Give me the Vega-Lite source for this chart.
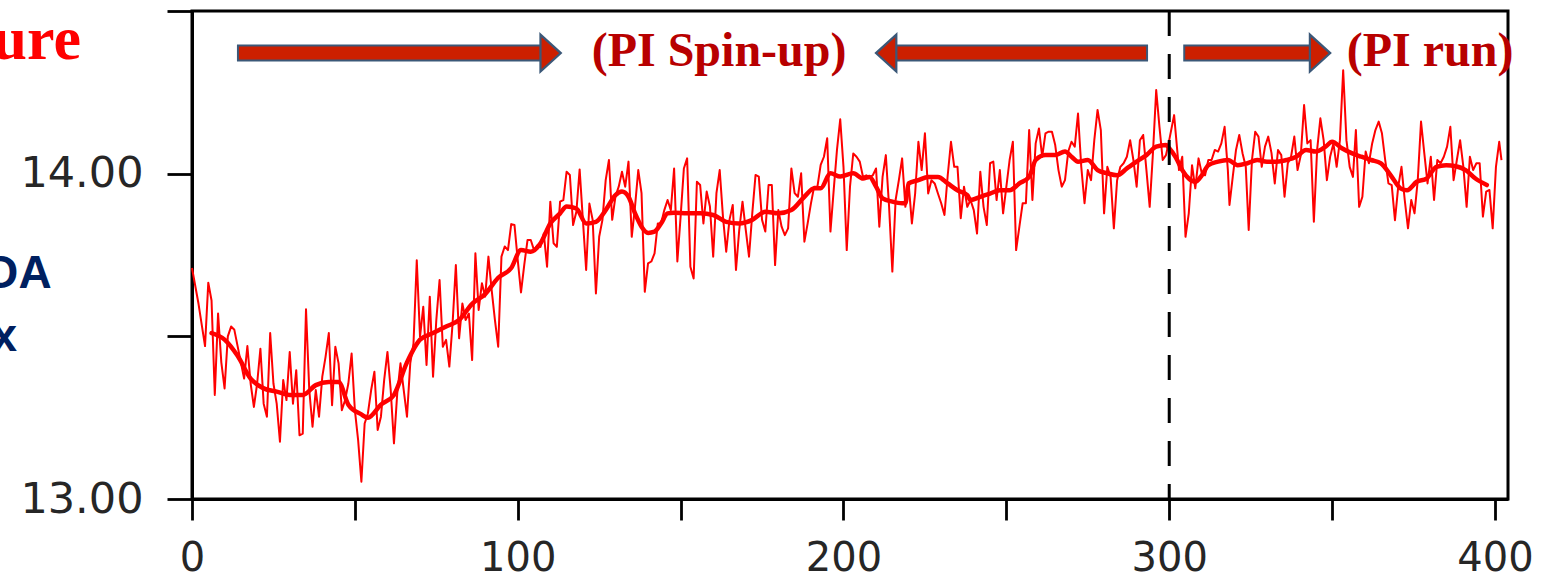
{
  "$schema": "https://vega.github.io/schema/vega-lite/v6.json",
  "width": 1316,
  "height": 488,
  "autosize": {"type": "none"},
  "padding": {"left": 192, "top": 11, "right": 49, "bottom": 81},
  "background": "white",
  "config": {
    "view": {"stroke": "black", "strokeWidth": 3},
    "axis": {
      "grid": false,
      "domainColor": "black",
      "domainWidth": 3,
      "tickColor": "black",
      "tickWidth": 2.8,
      "labelFont": "DejaVu Sans",
      "labelFontSize": 43,
      "labelColor": "#262626",
      "labelOverlap": false,
      "labelFlush": false,
      "labelBound": false,
      "title": null
    }
  },
  "datasets": {
    "annual": [
      {"yr":0,"t":13.71},{"yr":2,"t":13.60},{"yr":4,"t":13.47},{"yr":5,"t":13.665},{"yr":6,"t":13.61},{"yr":7,"t":13.32},{"yr":8,"t":13.57},{"yr":9,"t":13.42},{"yr":10,"t":13.34},
      {"yr":11,"t":13.50},{"yr":12,"t":13.53},{"yr":13,"t":13.52},{"yr":14,"t":13.47},{"yr":15,"t":13.42},{"yr":16,"t":13.37},{"yr":17,"t":13.47},{"yr":18,"t":13.355},{"yr":19,"t":13.283},{"yr":20,"t":13.355},
      {"yr":21,"t":13.462},{"yr":22,"t":13.293},{"yr":23,"t":13.253},{"yr":24,"t":13.51},{"yr":25,"t":13.355},{"yr":26,"t":13.293},{"yr":27,"t":13.176},{"yr":28,"t":13.366},{"yr":29,"t":13.304},{"yr":30,"t":13.452},
      {"yr":31,"t":13.293},{"yr":32,"t":13.396},{"yr":33,"t":13.196},{"yr":34,"t":13.201},{"yr":35,"t":13.583},{"yr":36,"t":13.335},{"yr":37,"t":13.222},{"yr":38,"t":13.335},{"yr":39,"t":13.253},{"yr":40,"t":13.376},
      {"yr":41,"t":13.437},{"yr":42,"t":13.51},{"yr":43,"t":13.288},{"yr":44,"t":13.468},{"yr":45,"t":13.417},{"yr":46,"t":13.273},{"yr":47,"t":13.304},{"yr":48,"t":13.355},{"yr":49,"t":13.447},{"yr":50,"t":13.273},
      {"yr":51,"t":13.181},{"yr":52,"t":13.053},{"yr":53,"t":13.232},{"yr":54,"t":13.263},{"yr":55,"t":13.335},{"yr":56,"t":13.391},{"yr":57,"t":13.212},{"yr":58,"t":13.253},{"yr":59,"t":13.366},{"yr":60,"t":13.452},
      {"yr":61,"t":13.335},{"yr":62,"t":13.171},{"yr":63,"t":13.324},{"yr":64,"t":13.417},{"yr":65,"t":13.335},{"yr":66,"t":13.253},{"yr":67,"t":13.417},{"yr":68,"t":13.478},{"yr":69,"t":13.734},{"yr":70,"t":13.499},
      {"yr":71,"t":13.591},{"yr":72,"t":13.412},{"yr":73,"t":13.622},{"yr":74,"t":13.376},{"yr":75,"t":13.55},{"yr":76,"t":13.673},{"yr":77,"t":13.468},{"yr":78,"t":13.489},{"yr":79,"t":13.407},{"yr":80,"t":13.54},
      {"yr":81,"t":13.719},{"yr":82,"t":13.494},{"yr":83,"t":13.601},{"yr":84,"t":13.55},{"yr":85,"t":13.57},{"yr":86,"t":13.427},{"yr":87,"t":13.755},{"yr":88,"t":13.581},{"yr":89,"t":13.663},{"yr":90,"t":13.622},
      {"yr":91,"t":13.745},{"yr":92,"t":13.642},{"yr":93,"t":13.55},{"yr":94,"t":13.468},{"yr":95,"t":13.745},{"yr":96,"t":13.776},{"yr":97,"t":13.765},{"yr":98,"t":13.845},{"yr":99,"t":13.842},{"yr":100,"t":13.734},
      {"yr":101,"t":13.635},{"yr":102,"t":13.72},{"yr":103,"t":13.796},{"yr":104,"t":13.796},{"yr":105,"t":13.765},{"yr":106,"t":13.78},{"yr":107,"t":13.775},{"yr":108,"t":13.816},{"yr":109,"t":13.714},{"yr":110,"t":13.914},
      {"yr":111,"t":13.786},{"yr":112,"t":13.775},{"yr":113,"t":13.914},{"yr":114,"t":13.919},{"yr":115,"t":14.006},{"yr":116,"t":13.996},{"yr":117,"t":13.842},{"yr":118,"t":13.883},{"yr":119,"t":14.013},{"yr":120,"t":13.858},
      {"yr":121,"t":13.704},{"yr":122,"t":13.908},{"yr":123,"t":13.858},{"yr":124,"t":13.632},{"yr":125,"t":13.806},{"yr":126,"t":13.858},{"yr":127,"t":13.98},{"yr":128,"t":14.042},{"yr":129,"t":13.858},{"yr":130,"t":13.93},
      {"yr":131,"t":13.96},{"yr":132,"t":14.006},{"yr":133,"t":13.96},{"yr":134,"t":14.037},{"yr":135,"t":13.806},{"yr":136,"t":13.899},{"yr":137,"t":14.011},{"yr":138,"t":13.94},{"yr":139,"t":13.637},{"yr":140,"t":13.724},
      {"yr":141,"t":13.73},{"yr":142,"t":13.755},{"yr":143,"t":13.847},{"yr":144,"t":13.847},{"yr":145,"t":13.888},{"yr":146,"t":13.919},{"yr":147,"t":13.888},{"yr":148,"t":14.016},{"yr":149,"t":13.73},{"yr":150,"t":13.868},
      {"yr":151,"t":14.016},{"yr":152,"t":14.047},{"yr":153,"t":13.714},{"yr":154,"t":13.678},{"yr":155,"t":13.975},{"yr":156,"t":13.965},{"yr":157,"t":13.847},{"yr":158,"t":13.945},{"yr":159,"t":13.899},{"yr":160,"t":13.745},
      {"yr":161,"t":13.94},{"yr":162,"t":14.011},{"yr":163,"t":13.868},{"yr":164,"t":13.76},{"yr":165,"t":13.858},{"yr":166,"t":13.904},{"yr":167,"t":13.704},{"yr":168,"t":13.827},{"yr":169,"t":13.914},{"yr":170,"t":13.827},
      {"yr":171,"t":13.745},{"yr":172,"t":13.878},{"yr":173,"t":13.996},{"yr":174,"t":13.991},{"yr":175,"t":13.858},{"yr":176,"t":13.822},{"yr":177,"t":13.965},{"yr":178,"t":13.965},{"yr":179,"t":13.719},{"yr":180,"t":13.888},
      {"yr":181,"t":13.837},{"yr":182,"t":13.811},{"yr":183,"t":13.832},{"yr":184,"t":14.016},{"yr":185,"t":13.94},{"yr":186,"t":13.929},{"yr":187,"t":14.001},{"yr":188,"t":13.791},{"yr":189,"t":13.847},{"yr":190,"t":13.908},
      {"yr":191,"t":13.96},{"yr":192,"t":13.96},{"yr":193,"t":14.027},{"yr":194,"t":14.052},{"yr":195,"t":14.109},{"yr":196,"t":13.822},{"yr":197,"t":13.95},{"yr":198,"t":14.073},{"yr":199,"t":14.167},{"yr":200,"t":14.021},
      {"yr":201,"t":13.765},{"yr":202,"t":13.96},{"yr":203,"t":14.062},{"yr":204,"t":14.052},{"yr":205,"t":14.037},{"yr":206,"t":13.99},{"yr":207,"t":13.995},{"yr":208,"t":13.99},{"yr":209,"t":13.995},{"yr":210,"t":14.016},
      {"yr":211,"t":13.837},{"yr":212,"t":13.99},{"yr":213,"t":14.057},{"yr":214,"t":13.898},{"yr":215,"t":13.699},{"yr":216,"t":13.919},{"yr":217,"t":13.98},{"yr":218,"t":14.047},{"yr":219,"t":13.898},{"yr":220,"t":13.97},
      {"yr":221,"t":13.847},{"yr":222,"t":13.939},{"yr":223,"t":14.098},{"yr":224,"t":14.011},{"yr":225,"t":14.124},{"yr":226,"t":13.939},{"yr":227,"t":13.98},{"yr":228,"t":13.97},{"yr":229,"t":13.939},{"yr":230,"t":13.909},
      {"yr":231,"t":13.873},{"yr":232,"t":13.995},{"yr":233,"t":14.098},{"yr":234,"t":14.021},{"yr":235,"t":14.021},{"yr":236,"t":13.863},{"yr":237,"t":13.96},{"yr":238,"t":13.898},{"yr":239,"t":13.919},{"yr":240,"t":13.888},
      {"yr":241,"t":13.816},{"yr":242,"t":14.006},{"yr":243,"t":13.898},{"yr":244,"t":13.842},{"yr":245,"t":14.032},{"yr":246,"t":14.037},{"yr":247,"t":13.919},{"yr":248,"t":14.011},{"yr":249,"t":13.878},{"yr":250,"t":13.96},
      {"yr":251,"t":14.042},{"yr":252,"t":14.098},{"yr":253,"t":13.765},{"yr":254,"t":13.837},{"yr":255,"t":13.909},{"yr":256,"t":13.909},{"yr":257,"t":14.134},{"yr":258,"t":13.919},{"yr":259,"t":14.093},{"yr":260,"t":14.139},
      {"yr":261,"t":14.052},{"yr":262,"t":14.124},{"yr":263,"t":14.129},{"yr":264,"t":14.129},{"yr":265,"t":14.088},{"yr":266,"t":14.011},{"yr":267,"t":13.96},{"yr":268,"t":13.98},{"yr":269,"t":14.068},{"yr":270,"t":14.098},
      {"yr":271,"t":14.083},{"yr":272,"t":14.185},{"yr":273,"t":14.021},{"yr":274,"t":13.909},{"yr":275,"t":14.011},{"yr":276,"t":13.98},{"yr":277,"t":14.103},{"yr":278,"t":14.196},{"yr":279,"t":14.134},{"yr":280,"t":13.878},
      {"yr":281,"t":14.021},{"yr":282,"t":13.99},{"yr":283,"t":13.832},{"yr":284,"t":13.98},{"yr":285,"t":14.021},{"yr":286,"t":14.032},{"yr":287,"t":14.052},{"yr":288,"t":14.103},{"yr":289,"t":14.042},{"yr":290,"t":13.96},
      {"yr":291,"t":14.103},{"yr":292,"t":14.119},{"yr":293,"t":14.011},{"yr":294,"t":13.898},{"yr":295,"t":14.063},{"yr":296,"t":14.257},{"yr":297,"t":14.144},{"yr":298,"t":14.042},{"yr":299,"t":14.057},{"yr":300,"t":14.103},
      {"yr":301.5,"t":14.18},{"yr":303,"t":14.011},{"yr":304,"t":14.052},{"yr":305,"t":13.806},{"yr":306,"t":13.878},{"yr":307,"t":14.026},{"yr":308,"t":13.955},{"yr":309,"t":14.047},{"yr":310,"t":14.001},
      {"yr":311,"t":13.995},{"yr":312,"t":14.042},{"yr":313,"t":14.042},{"yr":314,"t":14.073},{"yr":315,"t":14.068},{"yr":316,"t":14.093},{"yr":317,"t":14.144},{"yr":318,"t":14.011},{"yr":318.5,"t":13.904},{"yr":319.5,"t":13.99},
      {"yr":320.5,"t":14.073},{"yr":321.5,"t":14.119},{"yr":322.5,"t":14.063},{"yr":323.5,"t":14.021},{"yr":324.4,"t":13.827},{"yr":325.4,"t":14.042},{"yr":326.4,"t":14.129},{"yr":327.4,"t":14.114},{"yr":328.4,"t":14.021},{"yr":329.4,"t":14.083},
      {"yr":330.4,"t":14.114},{"yr":331.4,"t":14.063},{"yr":332.4,"t":13.97},{"yr":333.4,"t":14.073},{"yr":334.4,"t":14.057},{"yr":335.4,"t":13.929},{"yr":336.4,"t":14.032},{"yr":337.4,"t":14.052},{"yr":338.4,"t":14.114},{"yr":339.4,"t":14.011},
      {"yr":340.4,"t":14.057},{"yr":341.4,"t":14.211},{"yr":342.4,"t":14.093},{"yr":343.4,"t":14.103},{"yr":344.4,"t":13.852},{"yr":345.4,"t":14.073},{"yr":346.4,"t":14.17},{"yr":347.4,"t":14.103},{"yr":348.4,"t":13.98},{"yr":349.4,"t":14.052},
      {"yr":350.4,"t":14.093},{"yr":351.4,"t":14.021},{"yr":352.4,"t":14.103},{"yr":353.4,"t":14.318},{"yr":354.4,"t":14.103},{"yr":355.4,"t":14.021},{"yr":356.4,"t":13.99},{"yr":357.3,"t":14.134},{"yr":358.3,"t":13.898},{"yr":359.3,"t":13.929},
      {"yr":360.3,"t":14.068},{"yr":361.3,"t":14.032},{"yr":362.3,"t":14.093},{"yr":363.3,"t":14.134},{"yr":364.3,"t":14.16},{"yr":365.3,"t":14.124},{"yr":366.3,"t":14.042},{"yr":367.3,"t":13.97},{"yr":368.3,"t":13.965},{"yr":369.3,"t":13.857},
      {"yr":370.3,"t":13.96},{"yr":371.3,"t":14.021},{"yr":372.3,"t":13.919},{"yr":373.3,"t":13.832},{"yr":374.3,"t":13.919},{"yr":375.3,"t":13.878},{"yr":376.3,"t":13.98},{"yr":377.3,"t":14.16},{"yr":378.3,"t":14.063},{"yr":379.3,"t":13.97},
      {"yr":380.3,"t":14.052},{"yr":381.3,"t":13.919},{"yr":382.3,"t":14.042},{"yr":383.3,"t":14.032},{"yr":384.3,"t":14.052},{"yr":385.3,"t":14.083},{"yr":386.3,"t":14.144},{"yr":387.3,"t":13.98},{"yr":388.3,"t":14.042},{"yr":389.3,"t":14.103},
      {"yr":390.3,"t":14.021},{"yr":391.3,"t":13.898},{"yr":392.3,"t":14.052},{"yr":393.3,"t":14.011},{"yr":394.3,"t":14.032},{"yr":395.3,"t":14.032},{"yr":396.3,"t":13.868},{"yr":397.3,"t":13.945},{"yr":398.3,"t":13.95},{"yr":399.3,"t":13.832},
      {"yr":400.3,"t":14.021},{"yr":401.3,"t":14.098},{"yr":402,"t":14.042}
    ],
    "smooth": [
      {"yr":6,"t":13.51},{"yr":10,"t":13.49},{"yr":14,"t":13.44},{"yr":18,"t":13.37},{"yr":22,"t":13.34},{"yr":26,"t":13.33},{"yr":30,"t":13.32},{"yr":34,"t":13.32},{"yr":38,"t":13.35},{"yr":42,"t":13.36},
      {"yr":45,"t":13.36},{"yr":48,"t":13.29},{"yr":52,"t":13.26},{"yr":54,"t":13.25},{"yr":58,"t":13.29},{"yr":62,"t":13.32},{"yr":66,"t":13.42},{"yr":70,"t":13.49},{"yr":74,"t":13.51},{"yr":78,"t":13.53},
      {"yr":82,"t":13.55},{"yr":86,"t":13.60},{"yr":90,"t":13.63},{"yr":94,"t":13.68},{"yr":98,"t":13.71},{"yr":101,"t":13.765},{"yr":104,"t":13.76},{"yr":107,"t":13.786},{"yr":110,"t":13.847},{"yr":113,"t":13.878},
      {"yr":115,"t":13.899},{"yr":118,"t":13.893},{"yr":121,"t":13.847},{"yr":124,"t":13.852},{"yr":127,"t":13.888},{"yr":130,"t":13.934},{"yr":132,"t":13.945},{"yr":134,"t":13.929},{"yr":136,"t":13.878},{"yr":138,"t":13.837},
      {"yr":140,"t":13.818},{"yr":142,"t":13.822},{"yr":144,"t":13.847},{"yr":146,"t":13.878},{"yr":148,"t":13.88},{"yr":152,"t":13.878},{"yr":156,"t":13.878},{"yr":160,"t":13.873},{"yr":164,"t":13.852},{"yr":168,"t":13.847},
      {"yr":172,"t":13.858},{"yr":176,"t":13.883},{"yr":180,"t":13.878},{"yr":184,"t":13.888},{"yr":188,"t":13.929},{"yr":191,"t":13.955},{"yr":193,"t":13.955},{"yr":196,"t":14.001},{"yr":199,"t":13.991},{"yr":203,"t":14.001},
      {"yr":206,"t":13.985},{"yr":208,"t":13.99},{"yr":210,"t":13.96},{"yr":212,"t":13.924},{"yr":215,"t":13.914},{"yr":218,"t":13.909},{"yr":219,"t":13.909},{"yr":220,"t":13.97},{"yr":223,"t":13.98},{"yr":226,"t":13.99},
      {"yr":229,"t":13.99},{"yr":232,"t":13.97},{"yr":235,"t":13.949},{"yr":238,"t":13.934},{"yr":239,"t":13.919},{"yr":242,"t":13.929},{"yr":245,"t":13.939},{"yr":248,"t":13.949},{"yr":251,"t":13.949},{"yr":254,"t":13.97},
      {"yr":257,"t":13.99},{"yr":259,"t":14.042},{"yr":262,"t":14.057},{"yr":265,"t":14.057},{"yr":268,"t":14.068},{"yr":270,"t":14.052},{"yr":272,"t":14.037},{"yr":275,"t":14.042},{"yr":278,"t":14.011},{"yr":281,"t":14.001},
      {"yr":284,"t":13.995},{"yr":287,"t":14.016},{"yr":290,"t":14.037},{"yr":293,"t":14.057},{"yr":296,"t":14.083},{"yr":299,"t":14.088},{"yr":300,"t":14.078},{"yr":302,"t":14.05},{"yr":304,"t":14.011},{"yr":306,"t":13.985},
      {"yr":308,"t":13.975},{"yr":310,"t":13.995},{"yr":312,"t":14.026},{"yr":315,"t":14.037},{"yr":318,"t":14.042},{"yr":321,"t":14.026},{"yr":324,"t":14.032},{"yr":327,"t":14.042},{"yr":330,"t":14.037},{"yr":333,"t":14.037},
      {"yr":336,"t":14.042},{"yr":339,"t":14.052},{"yr":342,"t":14.073},{"yr":345,"t":14.068},{"yr":348,"t":14.083},{"yr":350,"t":14.098},{"yr":353,"t":14.078},{"yr":356,"t":14.063},{"yr":359,"t":14.052},{"yr":362,"t":14.042},
      {"yr":365,"t":14.032},{"yr":368,"t":13.995},{"yr":371,"t":13.955},{"yr":373,"t":13.949},{"yr":376,"t":13.975},{"yr":379,"t":13.985},{"yr":382,"t":14.021},{"yr":385,"t":14.026},{"yr":388,"t":14.023},{"yr":391,"t":14.011},
      {"yr":394,"t":13.985},{"yr":397.5,"t":13.965}
    ],
    "arrows": [
      {"xs": 13.8, "xh": 110.1, "y": 14.3706, "dir": "right"},
      {"xs": 293.5, "xh": 213.1, "y": 14.3706, "dir": "left"},
      {"xs": 304.3, "xh": 346.3, "y": 14.3706, "dir": "right"}
    ],
    "phases": [
      {"x": 161.8, "y": 14.331, "label": "(PI Spin-up)"},
      {"x": 380.1, "y": 14.331, "label": "(PI run)"}
    ],
    "sidetext": [
      {"x": -34.1, "y": 14.352, "label": "ure", "kind": "title"},
      {"x": -43.1, "y": 13.648, "label": "OA", "kind": "blue"},
      {"x": -53.7, "y": 13.456, "label": "x", "kind": "blue"}
    ],
    "split": [{"x": 300}]
  },
  "layer": [
    {
      "data": {"name": "annual"},
      "mark": {"type": "line", "color": "#ff0000", "strokeWidth": 2, "strokeJoin": "round"},
      "encoding": {
        "x": {
          "field": "yr", "type": "quantitative",
          "scale": {"domain": [0, 404], "nice": false, "zero": false},
          "axis": {
            "values": [0, 50, 100, 150, 200, 250, 300, 350, 400],
            "tickSize": 21,
            "labelPadding": 18,
            "labelFontSize": 40,
            "labelExpr": "datum.value % 100 == 0 ? datum.label : ''"
          }
        },
        "y": {
          "field": "t", "type": "quantitative",
          "scale": {"domain": [13, 14.5], "nice": false, "zero": false},
          "axis": {
            "values": [13, 13.5, 14, 14.5],
            "format": ".2f",
            "tickSize": 25,
            "labelPadding": 24,
            "labelExpr": "(datum.value == 13 || datum.value == 14) ? datum.label : ''"
          }
        }
      }
    },
    {
      "data": {"name": "smooth"},
      "mark": {"type": "line", "color": "#ff0000", "strokeWidth": 4.5, "strokeJoin": "round", "strokeCap": "round", "interpolate": "monotone"},
      "encoding": {
        "x": {"field": "yr", "type": "quantitative"},
        "y": {"field": "t", "type": "quantitative"}
      }
    },
    {
      "data": {"name": "split"},
      "mark": {"type": "rule", "color": "black", "strokeWidth": 3, "strokeDash": [25, 18]},
      "encoding": {
        "x": {"field": "x", "type": "quantitative"}
      }
    },
    {
      "data": {"name": "arrows"},
      "mark": {"type": "rule", "color": "#3b5878", "strokeWidth": 17},
      "encoding": {
        "x": {"field": "xs", "type": "quantitative"},
        "x2": {"field": "xh"},
        "y": {"field": "y", "type": "quantitative"}
      }
    },
    {
      "data": {"name": "arrows"},
      "transform": [{"filter": "datum.dir == 'right'"}],
      "mark": {"type": "rule", "color": "#cc1f00", "strokeWidth": 13, "xOffset": 2},
      "encoding": {
        "x": {"field": "xs", "type": "quantitative"},
        "x2": {"field": "xh"},
        "y": {"field": "y", "type": "quantitative"}
      }
    },
    {
      "data": {"name": "arrows"},
      "transform": [{"filter": "datum.dir == 'left'"}],
      "mark": {"type": "rule", "color": "#cc1f00", "strokeWidth": 13, "xOffset": -2},
      "encoding": {
        "x": {"field": "xs", "type": "quantitative"},
        "x2": {"field": "xh"},
        "y": {"field": "y", "type": "quantitative"}
      }
    },
    {
      "data": {"name": "arrows"},
      "mark": {"type": "point", "filled": true, "fill": "#cc1f00", "stroke": "#3b5878", "strokeWidth": 2.2, "opacity": 1, "size": 1369},
      "encoding": {
        "x": {"field": "xh", "type": "quantitative"},
        "y": {"field": "y", "type": "quantitative"},
        "shape": {
          "field": "dir", "type": "nominal", "legend": null,
          "scale": {"domain": ["right", "left"], "range": ["M-0.55,-1L0.55,0L-0.55,1Z", "M0.55,-1L-0.55,0L0.55,1Z"]}
        }
      }
    },
    {
      "data": {"name": "phases"},
      "mark": {"type": "text", "font": "Liberation Serif", "fontWeight": "bold", "fontSize": 48, "color": "#b80000", "align": "center", "baseline": "alphabetic"},
      "encoding": {
        "x": {"field": "x", "type": "quantitative"},
        "y": {"field": "y", "type": "quantitative"},
        "text": {"field": "label"}
      }
    },
    {
      "data": {"name": "sidetext"},
      "transform": [{"filter": "datum.kind == 'title'"}],
      "mark": {"type": "text", "font": "Liberation Serif", "fontWeight": "bold", "fontSize": 62, "color": "#ff0000", "align": "right", "baseline": "alphabetic"},
      "encoding": {
        "x": {"field": "x", "type": "quantitative"},
        "y": {"field": "y", "type": "quantitative"},
        "text": {"field": "label"}
      }
    },
    {
      "data": {"name": "sidetext"},
      "transform": [{"filter": "datum.kind == 'blue'"}],
      "mark": {"type": "text", "font": "Liberation Sans", "fontWeight": "bold", "fontSize": 46, "color": "#002060", "align": "right", "baseline": "alphabetic"},
      "encoding": {
        "x": {"field": "x", "type": "quantitative"},
        "y": {"field": "y", "type": "quantitative"},
        "text": {"field": "label"}
      }
    }
  ]
}
